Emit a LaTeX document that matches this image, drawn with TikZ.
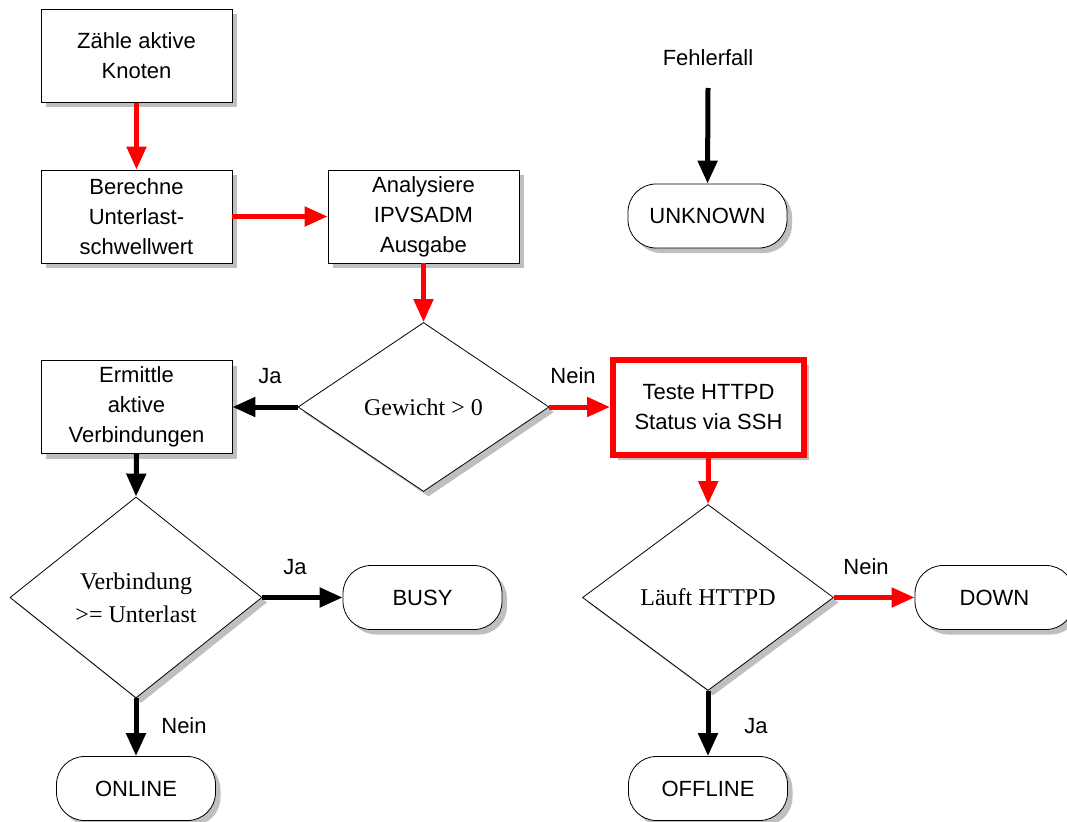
\documentclass[tikz,border=0pt]{standalone}
\usepackage{fontspec}
\setmainfont{Liberation Serif}
\setsansfont{Liberation Sans}
\usetikzlibrary{shapes.geometric,shadows,arrows.meta}
\begin{document}
\begin{tikzpicture}[x=1pt,y=-1pt,
  shd/.style={drop shadow={shadow xshift=5pt,shadow yshift=-5pt,fill=black!25,opacity=1}},
  sftext/.style={font=\sffamily\fontsize{22pt}{30pt}\selectfont},
  box/.style={draw,line width=0.8pt,fill=white,shd,minimum width=191pt,minimum height=93pt,inner sep=0pt,align=center,sftext},
  hotbox/.style={box,draw=red,line width=6pt,minimum width=191pt,minimum height=95pt},
  decision/.style={shape=diamond,draw,line width=0.8pt,fill=white,shd,inner sep=0pt,align=center,font=\rmfamily\fontsize{24pt}{33pt}\selectfont},
  term/.style={draw,line width=0.8pt,fill=white,shd,rounded corners=28pt,minimum width=159pt,minimum height=64pt,inner sep=0pt,sftext},
  lbl/.style={inner sep=0pt,sftext},
  arr/.style={line width=5pt,-{Triangle[length=23pt,width=19pt]}},
  redarr/.style={arr,red}]
\useasboundingbox (0,0) rectangle (1067,821);
% process boxes
\node[box] (zaehle) at (136.5,56) {Zähle aktive\\Knoten};
\node[box] (berechne) at (136.5,216.5) {Berechne\\Unterlast-\\schwellwert};
\node[box] (analys) at (423.5,216.5) {Analysiere\\IPVSADM\\Ausgabe};
\node[box] (ermittle) at (136.5,407) {Ermittle\\aktive\\Verbindungen};
\node[hotbox] (teste) at (708.5,407) {Teste HTTPD\\Status via SSH};
% decisions
\node[decision,minimum width=251pt,minimum height=169pt] (gewicht) at (423.5,407) {Gewicht > 0};
\node[decision,minimum width=252pt,minimum height=201pt] (verb) at (136,597.5) {Verbindung\\>= Unterlast};
\node[decision,minimum width=251pt,minimum height=186pt] (laeuft) at (708,597.5) {Läuft HTTPD};
% terminators
\node[term] (unknown) at (707.5,216) {UNKNOWN};
\node[term] (busy) at (422.5,597.5) {BUSY};
\node[term] (down) at (994.5,597.5) {DOWN};
\node[term] (online) at (136,788.5) {ONLINE};
\node[term] (offline) at (708,788.5) {OFFLINE};
% labels
\node[lbl] (fehler) at (708,58) {Fehlerfall};
\coordinate (fstart) at (708,88);
\node[lbl] (ja1) at (270,376) {Ja};
\node[lbl] (nein1) at (573,376) {Nein};
\node[lbl] (ja2) at (295,567) {Ja};
\node[lbl] (nein2) at (866,567) {Nein};
\node[lbl] (nein3) at (184,726) {Nein};
\node[lbl] (ja3) at (756,726) {Ja};
% connectors
\draw[redarr] (zaehle.south) -- (berechne.north);
\draw[redarr] (berechne.east) -- (analys.west);
\draw[redarr] (analys.south) -- (gewicht.north);
\draw[arr] (gewicht.west) -- (ermittle.east);
\draw[redarr] (gewicht.east) -- (teste.west);
\draw[redarr] (teste.south) -- (laeuft.north);
\draw[arr] (ermittle.south) -- (verb.north);
\draw[arr] (verb.east) -- (busy.west);
\draw[arr] (verb.south) -- (online.north);
\draw[redarr] (laeuft.east) -- (down.west);
\draw[arr] (laeuft.south) -- (offline.north);
\draw[arr] (fstart) -- (unknown.north);
\end{tikzpicture}
\end{document}
